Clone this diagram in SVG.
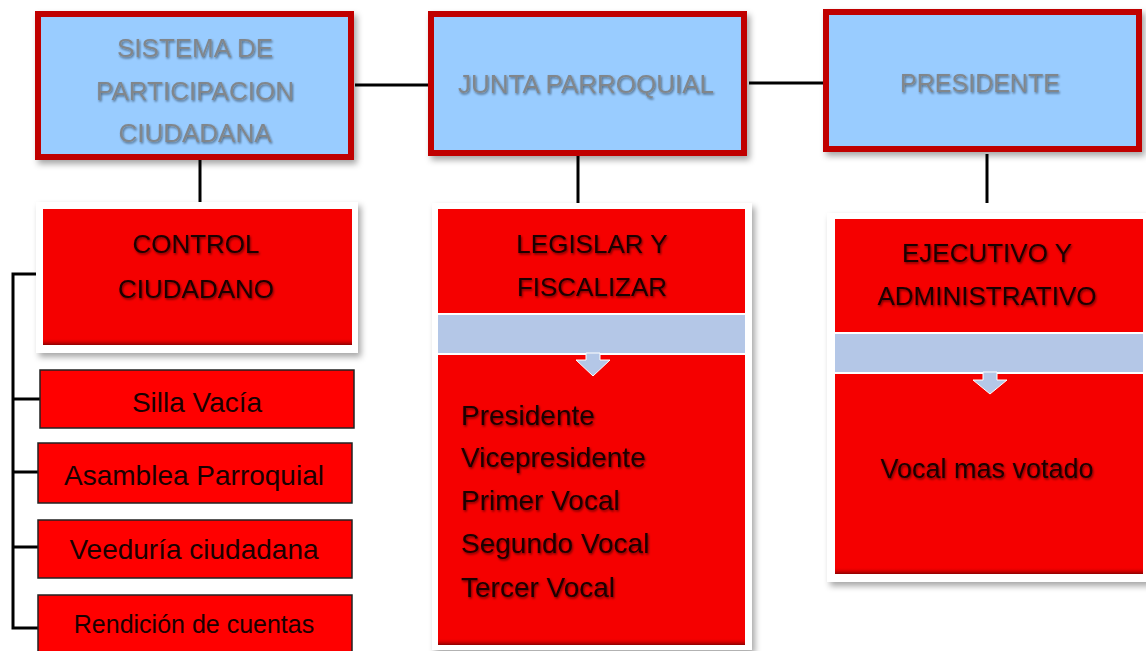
<svg xmlns="http://www.w3.org/2000/svg" width="1146" height="651" viewBox="0 0 1146 651">
<defs>
<filter id="sh" x="-10%" y="-10%" width="130%" height="130%"><feDropShadow dx="3" dy="4" stdDeviation="3" flood-color="#000" flood-opacity="0.35"/></filter>
<filter id="ts" x="-10%" y="-30%" width="120%" height="160%"><feDropShadow dx="1" dy="1.5" stdDeviation="1.2" flood-color="#000" flood-opacity="0.55"/></filter>
<linearGradient id="bev" x1="0" y1="0" x2="0" y2="1"><stop offset="0" stop-color="#f50000" stop-opacity="0"/><stop offset="1" stop-color="#8a0000"/></linearGradient>
</defs>
<style>
.top{fill:#99CCFF;stroke:#C00000;stroke-width:6}
.frame{fill:#fff}
.red{fill:#F50000}
.band{fill:#B4C7E7}
.sub{fill:#FF0000;stroke:#222;stroke-width:1.5}
.conn{fill:none;stroke:#000;stroke-width:3}
text{font-family:"Liberation Sans",Arial,sans-serif}
.tg{fill:#7f7f7f;font-size:26px;text-anchor:middle}
.tr{fill:#1a0000;font-size:26px;text-anchor:middle}
.tl{fill:#1a0000;font-size:28px}
.ts{fill:#1a0000;font-size:28px;text-anchor:middle}
.arrow{fill:#B4C7E7;stroke:#fff;stroke-width:1}
</style>
<g id="connectors">
<path class="conn" d="M355 85H428"/>
<path class="conn" d="M749 83H823"/>
<path class="conn" d="M200 160V208"/>
<path class="conn" d="M578 156V205"/>
<path class="conn" d="M987 154V203"/>
<path class="conn" d="M36 274H13V628H38M13 399H40M13 472H38M13 547H38"/>
</g>
<g id="sistema">
<rect class="top" x="38" y="14" width="313" height="143" filter="url(#sh)"/>
<g filter="url(#ts)" opacity="0.9"><text class="tg" x="195" y="57">SISTEMA DE</text><text class="tg" x="195" y="100">PARTICIPACION</text><text class="tg" x="195" y="142">CIUDADANA</text></g>
</g>
<g id="junta">
<rect class="top" x="431" y="14" width="313" height="139" filter="url(#sh)"/>
<g filter="url(#ts)" opacity="0.9"><text class="tg" x="586" y="93">JUNTA PARROQUIAL</text></g>
</g>
<g id="presidente">
<rect class="top" x="826" y="12" width="313" height="137" filter="url(#sh)"/>
<g filter="url(#ts)" opacity="0.9"><text class="tg" x="980" y="92" style="font-size:25px">PRESIDENTE</text></g>
</g>
<g id="control">
<rect class="frame" x="36" y="202" width="322" height="151" filter="url(#sh)"/>
<rect class="red" x="43" y="209" width="309" height="136"/>
<rect fill="url(#bev)" x="43" y="338" width="309" height="7"/>
<g filter="url(#ts)"><text class="tr" x="196" y="253">CONTROL</text><text class="tr" x="196" y="298">CIUDADANO</text></g>
</g>
<g id="legislar">
<rect class="frame" x="432" y="203" width="320" height="447" filter="url(#sh)"/>
<rect class="red" x="438" y="209" width="307" height="104"/>
<rect class="band" x="438" y="315" width="307" height="38"/>
<rect class="red" x="438" y="355" width="307" height="290"/>
<rect fill="url(#bev)" x="438" y="638" width="307" height="7"/>
<path class="arrow" d="M586 353H600V360H610L593 376L576 360H586Z"/>
<g filter="url(#ts)"><text class="tr" x="592" y="253">LEGISLAR Y</text><text class="tr" x="592" y="296">FISCALIZAR</text>
<text class="tl" x="461" y="425">Presidente</text>
<text class="tl" x="461" y="467">Vicepresidente</text>
<text class="tl" x="461" y="510">Primer Vocal</text>
<text class="tl" x="461" y="553">Segundo Vocal</text>
<text class="tl" x="461" y="597">Tercer Vocal</text></g>
</g>
<g id="ejecutivo">
<rect class="frame" x="827" y="213" width="330" height="369" filter="url(#sh)"/>
<rect class="red" x="835" y="219" width="308" height="113"/>
<rect class="band" x="835" y="334" width="308" height="38"/>
<rect class="red" x="835" y="374" width="308" height="200"/>
<rect fill="url(#bev)" x="835" y="567" width="308" height="7"/>
<path class="arrow" d="M983 372H997V380H1007L990 394L973 380H983Z"/>
<g filter="url(#ts)"><text class="tr" x="987" y="262">EJECUTIVO Y</text><text class="tr" x="987" y="305">ADMINISTRATIVO</text>
<text class="tr" x="987" y="478" style="font-size:27px">Vocal mas votado</text></g>
</g>
<g id="silla"><rect class="sub" x="40" y="370" width="314" height="58"/><text class="ts" x="197" y="412">Silla Vacía</text></g>
<g id="asamblea"><rect class="sub" x="38" y="443" width="314" height="60"/><text class="ts" x="194" y="485">Asamblea Parroquial</text></g>
<g id="veeduria"><rect class="sub" x="38" y="520" width="314" height="58"/><text class="ts" x="194" y="559">Veeduría ciudadana</text></g>
<g id="rendicion"><rect class="sub" x="38" y="595" width="314" height="62"/><text class="ts" x="194" y="633" style="font-size:25px">Rendición de cuentas</text></g>
</svg>
